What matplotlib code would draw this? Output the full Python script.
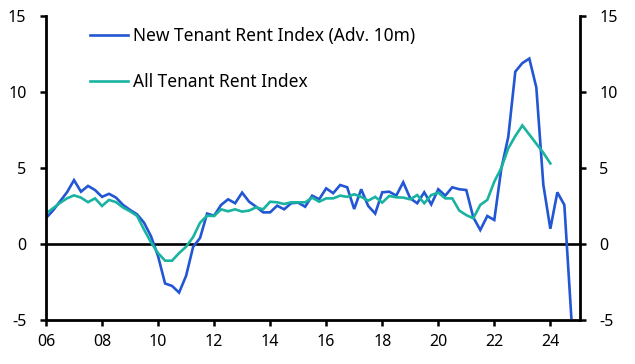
import matplotlib
matplotlib.use("Agg")
import matplotlib.pyplot as plt
import numpy as np

plt.rcParams['font.family'] = ['Noto Sans', 'DejaVu Sans']

# quarterly data from 2006 Q1
start_year = 2006.0

new_tenant = [1.7, 2.2, 2.8, 3.4, 4.2, 3.44, 3.82, 3.55, 3.1, 3.3,
              3.05, 2.57, 2.24, 1.95, 1.4, 0.5, -0.8, -2.6, -2.76, -3.2,
              -2.1, -0.2, 0.4, 2.0, 1.86, 2.57, 2.94, 2.68, 3.38, 2.78,
              2.45, 2.08, 2.08, 2.52, 2.28, 2.68, 2.72, 2.45, 3.18, 2.94,
              3.66, 3.34, 3.88, 3.73, 2.3, 3.6, 2.5, 2.0, 3.4, 3.44,
              3.18, 4.06, 3.0, 2.68, 3.4, 2.6, 3.6, 3.18, 3.73, 3.6,
              3.55, 1.75, 0.92, 1.84, 1.58, 4.95, 7.06, 11.34, 11.9, 12.2,
              10.3, 3.9, 1.0, 3.4, 2.57, -4.85]

all_tenant = [2.0, 2.35, 2.7, 3.0, 3.2, 3.05, 2.75, 3.0, 2.5, 2.9,
              2.75, 2.4, 2.15, 1.85, 0.95, 0.1, -0.6, -1.1, -1.1, -0.6,
              -0.18, 0.45, 1.4, 1.86, 1.84, 2.28, 2.15, 2.28, 2.13, 2.2,
              2.41, 2.28, 2.78, 2.74, 2.63, 2.74, 2.74, 2.74, 3.05, 2.78,
              3.0, 3.0, 3.18, 3.1, 3.27, 3.1, 2.85, 3.1, 2.72, 3.16,
              3.07, 3.05, 2.94, 3.22, 2.68, 3.22, 3.38, 3.0, 3.0, 2.2,
              1.9, 1.69, 2.57, 2.9, 4.1, 5.0, 6.3, 7.1, 7.8, 7.2,
              6.6, 6.0, 5.3]

x_ticks = [2006, 2008, 2010, 2012, 2014, 2016, 2018, 2020, 2022, 2024]
x_labels = ["06", "08", "10", "12", "14", "16", "18", "20", "22", "24"]
y_ticks = [-5, 0, 5, 10, 15]

x_new = start_year + np.arange(len(new_tenant)) * 0.25
x_all = start_year + np.arange(len(all_tenant)) * 0.25

fig = plt.figure(figsize=(6.35, 3.64), dpi=100)
ax = fig.add_axes([0.0724, 0.121, 0.8406, 0.835])

ax.plot(x_new, new_tenant, color="#2256d3", lw=1.9, label="New Tenant Rent Index (Adv. 10m)", solid_joinstyle="miter")
ax.plot(x_all, all_tenant, color="#19b3a0", lw=1.9, label="All Tenant Rent Index", solid_joinstyle="miter")
ax.axhline(0, color="black", lw=1.9, zorder=1)

ax.set_xlim(2006, 2025.05)
ax.set_ylim(-5, 15)
ax.set_xticks(x_ticks)
ax.set_xticklabels(x_labels)
ax.set_yticks(y_ticks)
ax.set_yticklabels([str(v) for v in y_ticks])

for s in ["left", "right", "bottom"]:
    ax.spines[s].set_linewidth(2)
ax.spines["top"].set_visible(False)

ax.tick_params(axis="both", direction="out", length=4, width=1.8, labelsize=11.5, colors="black")
ax.tick_params(axis="y", labelleft=True, labelright=True, left=True, right=True, pad=10)
ax.tick_params(axis="x", pad=6)

leg = ax.legend(loc="upper left", bbox_to_anchor=(0.053, 1.015), frameon=False, fontsize=12.5,
                handlelength=2.2, handletextpad=0.3, labelspacing=1.6)

fig.savefig("out.png", dpi=100)
